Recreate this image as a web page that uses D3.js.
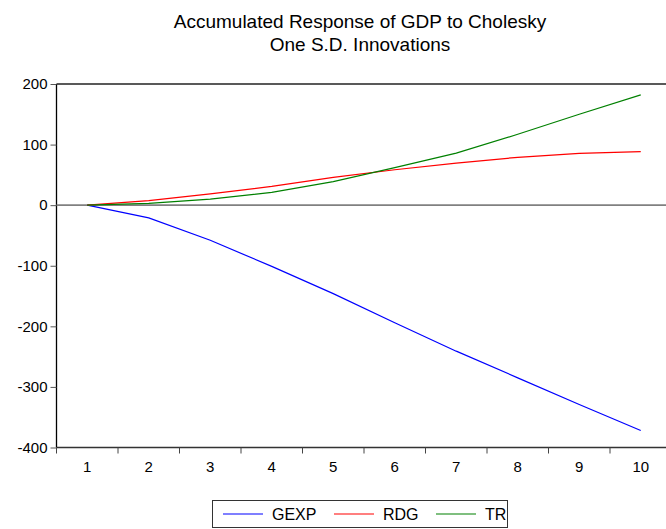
<!DOCTYPE html>
<html><head><meta charset="utf-8">
<script src="https://cdn.jsdelivr.net/npm/d3@7"></script>
<style>body{margin:0;background:#fff}svg{display:block}text{font-family:"Liberation Sans",Arial,sans-serif;fill:#000}</style>
</head><body>
<script>
const periods = [1,2,3,4,5,6,7,8,9,10];
const gexp = [0, -21, -58, -101, -146, -194, -241, -285, -329, -372];
const rdg  = [0, 7.5, 18.5, 31, 46, 58.5, 69.5, 79, 85.5, 88.5];
const tr   = [0, 3, 10, 21, 39, 62, 86, 117, 150, 182];
const yTicks = [200, 100, 0, -100, -200, -300, -400];
const seriesNames = ["GEXP", "RDG", "TR"];
const seriesColors = ["#0000ff", "#ff0000", "#008000"];
const titleLines = ["Accumulated Response of GDP to Cholesky", "One S.D. Innovations"];

const W = 666, H = 529;
const svg = d3.select("body").append("svg").attr("width", W).attr("height", H);
const L = 56.5, R = 671.5, T = 84, B = 447.5;

const x = d3.scaleBand().domain(periods).range([L, R]);
const y = d3.scaleLinear().domain([-400, 200]).range([B, T]);

// title
svg.selectAll("text.title").data(titleLines).join("text")
  .attr("class","title").attr("x", 360).attr("y", (d,i)=> 28 + i*23)
  .attr("text-anchor","middle").style("font-size","19px").text(d=>d);

// frame
svg.append("line").attr("x1",L).attr("x2",R).attr("y1",T).attr("y2",T).attr("stroke","#222").attr("stroke-width",1.6);
svg.append("line").attr("x1",L).attr("x2",R).attr("y1",B).attr("y2",B).attr("stroke","#333").attr("stroke-width",1.6);
svg.append("line").attr("x1",L).attr("x2",L).attr("y1",T).attr("y2",B).attr("stroke","#000").attr("stroke-width",1.3);

// zero line
svg.append("line").attr("x1",L).attr("x2",R).attr("y1",y(0)).attr("y2",y(0)).attr("stroke","#808080").attr("stroke-width",1.6);

// y axis
const yAxis = d3.axisLeft(y).tickValues(yTicks).tickSize(6).tickPadding(3).tickFormat(d => String(d));
const gy = svg.append("g").attr("transform",`translate(${L},0)`).call(yAxis);
gy.select(".domain").remove();
gy.selectAll(".tick line").attr("stroke","#555");
gy.selectAll(".tick text").style("font-size","15px").attr("font-family",null);

// x axis
const gx = svg.append("g");
gx.selectAll("line").data(periods).join("line")
  .attr("x1", d=>x(d)).attr("x2", d=>x(d)).attr("y1", B).attr("y2", B+6).attr("stroke","#444").attr("stroke-width",1);
gx.selectAll("text").data(periods).join("text")
  .attr("x", d=>x(d)+x.bandwidth()/2).attr("y", B+24).attr("text-anchor","middle")
  .style("font-size","15px").text(d=>d);

// lines
const series = [gexp, rdg, tr];
const line = d3.line().x((d,i)=>x(periods[i])+x.bandwidth()/2).y(d=>y(d));
svg.selectAll("path.series").data(series).join("path").attr("class","series")
  .attr("d", line).attr("fill","none").attr("stroke",(d,i)=>seriesColors[i]).attr("stroke-width",1.2);

// legend
const lg = svg.append("g");
lg.append("rect").attr("x",212.5).attr("y",500.5).attr("width",295).attr("height",27).attr("fill","#fff").attr("stroke","#333").attr("stroke-width",1);
const lx = [223, 334, 436];
seriesNames.forEach((n,i)=>{
  lg.append("line").attr("x1",lx[i]).attr("x2",lx[i]+40).attr("y1",514).attr("y2",514).attr("stroke",seriesColors[i]).attr("stroke-width",1.2);
  lg.append("text").attr("x",lx[i]+49).attr("y",520).style("font-size","16px").text(n);
});
</script>
</body></html>
